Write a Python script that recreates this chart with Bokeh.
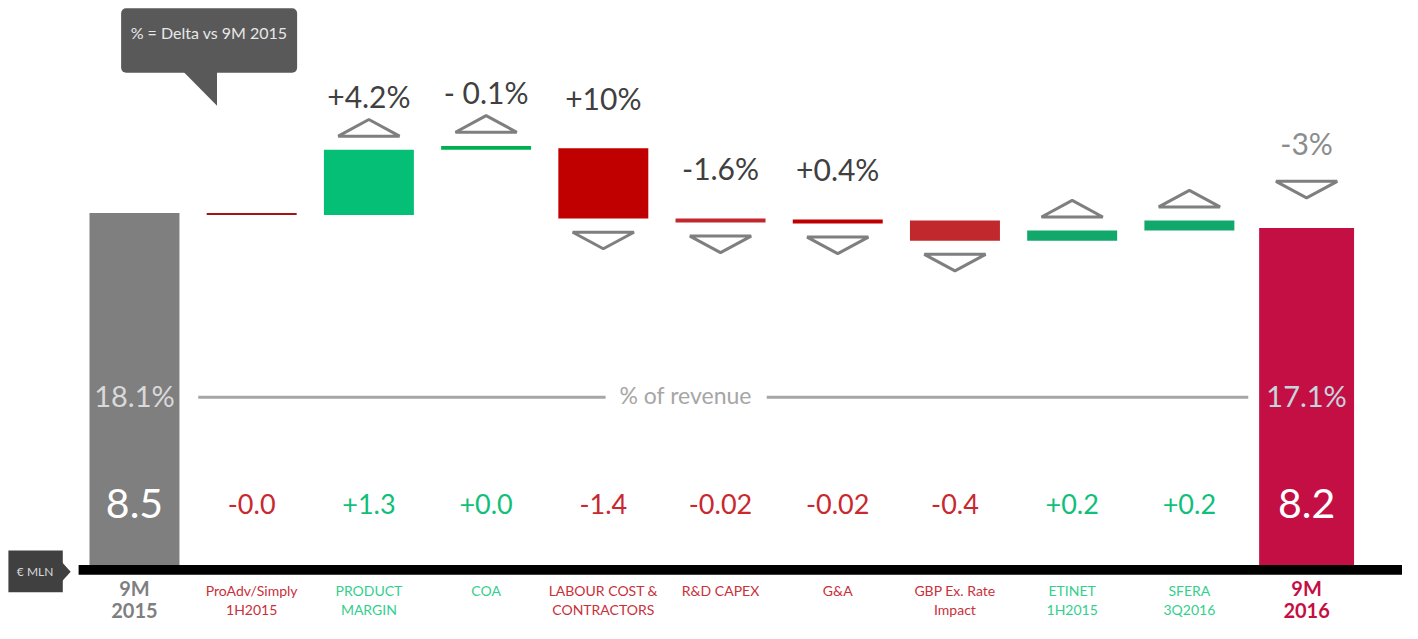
from bokeh.plotting import figure
from bokeh.models import Range1d
from bokeh.core.properties import value
from bokeh.embed import file_html
from bokeh.resources import INLINE

# ---------------- data ----------------
categories = ["9M\n2015", "ProAdv/Simply\n1H2015", "PRODUCT\nMARGIN", "COA",
              "LABOUR COST &\nCONTRACTORS", "R&D CAPEX", "G&A",
              "GBP Ex. Rate\nImpact", "ETINET\n1H2015", "SFERA\n3Q2016", "9M\n2016"]
start_value = 8.5
deltas = [-0.04, 1.3, 0.03, -1.4, -0.02, -0.02, -0.4, 0.2, 0.2]
end_value = 8.2
value_labels = ["8.5", "-0.0", "+1.3", "+0.0", "-1.4", "-0.02", "-0.02", "-0.4", "+0.2", "+0.2", "8.2"]
pct_labels = ["", "", "+4.2%", "- 0.1%", "+10%", "-1.6%", "+0.4%", "", "", "", "-3%"]
trend = ["", "", "up", "up", "down", "down", "down", "down", "up", "up", "down"]
revenue_share = ["18.1%", "17.1%"]
callout_text = "% = Delta vs 9M 2015"
unit_text = "€ MLN"
revenue_text = "% of revenue"

# ---------------- styles / layout ----------------
FONT = "Lato"
bar_colors = ["#7f7f7f", "#a31515", "#05bf76", "#00b050", "#c00000", "#c0282d",
              "#c00000", "#c0282d", "#12a86b", "#12a86b", "#c40f45"]
RED_TXT = "#c9282f"
GREEN_TXT = "#10c07a"
CAT_RED = "#c8303a"
CAT_GREEN = "#33cf8d"

W, H = 1402, 623          # figure size
RW, RH = 1418, 639        # layout design size (scaled into the figure)
PX_X = 118.55             # design px per category step
PX_Y = 51.5               # design px per value unit
X0 = -135.5 / PX_X
X1 = X0 + RW / PX_X
Y1 = 8.5 + 218 / PX_Y
Y0 = Y1 - RH / PX_Y


def sx(px):
    return X0 + px / PX_X


def sy(py):
    return Y1 - py / PX_Y


def dpx(n):
    return n / PX_X


def dpy(n):
    return n / PX_Y


def pix_y(v):
    return (Y1 - v) * PX_Y


p = figure(width=W, height=H, x_range=Range1d(X0, X1), y_range=Range1d(Y0, Y1),
           output_backend="svg", toolbar_location=None, min_border=0,
           x_axis_type=None, y_axis_type=None)
p.grid.visible = False
p.outline_line_color = None
p.background_fill_color = "white"
p.border_fill_color = "white"

BASE = sy(579)
n = len(categories)
xs = list(range(n))

# waterfall geometry
tops, bottoms = [start_value], [BASE]
level = start_value
for d in deltas:
    new = level + d
    lo, hi = min(level, new), max(level, new)
    if pix_y(lo) - pix_y(hi) < 1.8:
        if d >= 0:
            hi = lo + dpy(4)
        else:
            lo = hi - dpy(4)
    tops.append(hi)
    bottoms.append(lo)
    level = new
tops.append(end_value)
bottoms.append(BASE)

widths = [dpx(91)] * (n - 1) + [dpx(96)]
p.vbar(x=xs, top=tops, bottom=bottoms, width=widths, fill_color=bar_colors,
       line_color=None)

# black axis band
p.quad(left=sx(79), right=X1, top=sy(579), bottom=sy(589), fill_color="black", line_color=None)

# triangles and percentage labels
tri_xs, tri_ys = [], []
pct_x, pct_y, pct_t, pct_c = [], [], [], []
for i in range(n):
    t = trend[i]
    label_py = None
    if t:
        hw = dpx(31)
        if t == "up":
            base = pix_y(tops[i]) - 14
            apex = base - 17
            label_py = apex - 24
        elif i == n - 1:
            apex = pix_y(tops[i]) - 31
            base = apex - 17
            label_py = base - 39
        else:
            base = pix_y(bottoms[i]) + 14
            apex = base + 17
            label_py = pix_y(tops[i]) - 52
        tri_xs.append([i - hw, i + hw, i])
        tri_ys.append([sy(base), sy(base), sy(apex)])
    if pct_labels[i]:
        pct_x.append(i)
        pct_y.append(sy(label_py))
        pct_t.append(pct_labels[i])
        pct_c.append("#8c8c8c" if i == n - 1 else "#404040")

p.patches(xs=tri_xs, ys=tri_ys, fill_color="white", line_color="#7f7f7f", line_width=3)
p.text(x=pct_x, y=pct_y, text=pct_t, text_color=pct_c, text_font=value(FONT),
       text_font_size="30px", text_align="center", text_baseline="middle")

# value labels
v_t, v_c, v_s = [], [], []
for i, lab in enumerate(value_labels):
    v_t.append(lab)
    if i == 0 or i == n - 1:
        v_c.append("white")
        v_s.append("41px")
    else:
        v_c.append(GREEN_TXT if lab.startswith("+") else RED_TXT)
        v_s.append("27px")
p.text(x=xs, y=[sy(516)] * n, text=v_t, text_color=v_c, text_font_size=v_s,
       text_font=value(FONT), text_align="center", text_baseline="middle")

# % of revenue
p.segment(x0=[sx(200), sx(775)], y0=[sy(407)] * 2, x1=[sx(612), sx(1262)], y1=[sy(407)] * 2,
          line_color="#a6a6a6", line_width=3)
p.text(x=[sx(693)], y=[sy(405)], text=[revenue_text], text_color="#a6a6a6",
       text_font=value(FONT), text_font_size="23px", text_align="center", text_baseline="middle")
p.text(x=[0, n - 1], y=[sy(405)] * 2, text=revenue_share, text_color=["#d9d9d9", "#c5d5de"],
       text_font=value(FONT), text_font_size="29px", text_align="center", text_baseline="middle")

# category labels
small_i = list(range(1, n - 1))
cat_cols = [CAT_GREEN if value_labels[i].startswith("+") else CAT_RED for i in small_i]
p.text(x=small_i, y=[sy(596)] * len(small_i), text=[categories[i] for i in small_i],
       text_color=cat_cols, text_font=value(FONT), text_font_size="14px",
       text_align="center", text_baseline="top", text_line_height=1.15)
p.text(x=[0, n - 1], y=[sy(637)] * 2, text=[categories[0], categories[-1]],
       text_color=["#7f7f7f", "#c40f45"], text_font=value(FONT), text_font_size="20px",
       text_font_style="bold", text_align="center", text_baseline="bottom", text_line_height=0.9)

# callout
p.quad(left=sx(122), right=sx(300), top=sy(8), bottom=sy(74), fill_color="#595959",
       line_color=None, border_radius=5)
p.patch(x=[sx(185), sx(219), sx(219)], y=[sy(73), sy(73), sy(108)], fill_color="#595959",
        line_color=None)
p.text(x=[sx(211)], y=[sy(33)], text=[callout_text], text_color="#e8e8e8",
       text_font=value(FONT), text_font_size="16px", text_align="center", text_baseline="middle")

# unit box
p.quad(left=sx(8), right=sx(63), top=sy(564), bottom=sy(607), fill_color="#404040", line_color=None)
p.patch(x=[sx(62), sx(71), sx(62)], y=[sy(576), sy(586), sy(596)], fill_color="#404040",
        line_color=None)
p.text(x=[sx(35)], y=[sy(586)], text=[unit_text], text_color="#d9d9d9",
       text_font=value(FONT), text_font_size="12px", text_align="center", text_baseline="middle")

open("out.html", "w").write(file_html(p, INLINE))
